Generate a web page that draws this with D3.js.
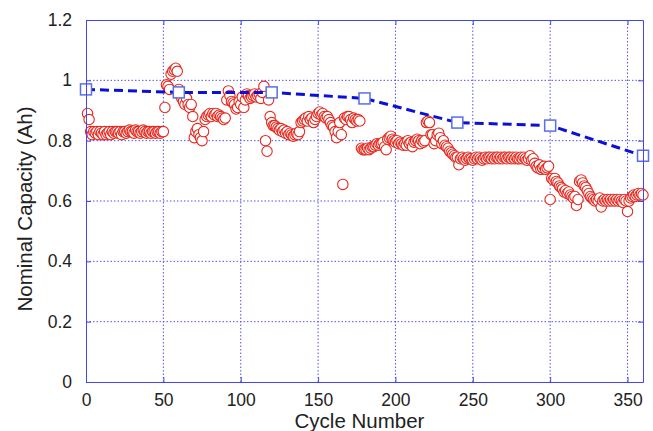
<!DOCTYPE html>
<html>
<head>
<meta charset="utf-8">
<script src="https://cdn.jsdelivr.net/npm/d3@7"></script>
<style>
  body { margin: 0; background: #fff; }
  text { font-family: Arial, "Liberation Sans", sans-serif; fill: #222; }
</style>
</head>
<body>
<div id="chart-area"></div>
<script>
// nominal capacity per cycle (cycle 1..360)
const capacity = [
  0.89,0.87,0.83,0.82,0.83,0.825,0.83,0.82,0.83,0.825,
  0.82,0.83,0.82,0.825,0.83,0.82,0.83,0.825,0.83,0.83,
  0.825,0.83,0.82,0.83,0.83,0.825,0.83,0.835,0.83,0.83,
  0.825,0.835,0.83,0.83,0.825,0.83,0.835,0.83,0.825,0.83,
  0.83,0.825,0.83,0.83,0.825,0.83,0.83,0.825,0.83,0.83,
  0.91,0.985,0.98,0.97,1.02,1.03,1.035,1.04,1.03,0.97,
  0.95,0.94,0.93,0.92,0.94,0.92,0.91,0.92,0.88,0.81,
  0.83,0.84,0.82,0.81,0.80,0.83,0.87,0.88,0.885,0.89,
  0.88,0.89,0.885,0.89,0.88,0.885,0.88,0.875,0.87,0.875,
  0.935,0.965,0.95,0.93,0.925,0.92,0.905,0.91,0.93,0.92,
  0.945,0.91,0.935,0.955,0.95,0.94,0.945,0.95,0.955,0.945,
  0.95,0.955,0.94,0.96,0.98,0.80,0.765,0.935,0.88,0.86,
  0.85,0.85,0.845,0.84,0.835,0.84,0.83,0.835,0.825,0.83,
  0.82,0.825,0.82,0.815,0.82,0.825,0.82,0.83,0.86,0.865,
  0.87,0.875,0.865,0.88,0.87,0.875,0.86,0.87,0.88,0.89,
  0.895,0.885,0.89,0.88,0.875,0.88,0.87,0.86,0.85,0.845,
  0.83,0.81,0.83,0.86,0.82,0.655,0.875,0.87,0.88,0.88,
  0.87,0.86,0.875,0.87,0.865,0.87,0.865,0.775,0.77,0.77,
  0.77,0.775,0.77,0.775,0.78,0.78,0.785,0.79,0.785,0.79,
  0.79,0.795,0.78,0.77,0.805,0.81,0.815,0.805,0.80,0.795,
  0.80,0.79,0.795,0.79,0.785,0.79,0.785,0.80,0.79,0.795,
  0.78,0.795,0.80,0.805,0.80,0.79,0.80,0.795,0.80,0.86,
  0.865,0.86,0.82,0.82,0.79,0.80,0.82,0.825,0.81,0.79,
  0.80,0.785,0.78,0.775,0.765,0.76,0.755,0.75,0.745,0.745,
  0.72,0.74,0.745,0.74,0.735,0.74,0.745,0.74,0.74,0.735,
  0.74,0.745,0.74,0.745,0.74,0.735,0.74,0.745,0.74,0.745,
  0.745,0.74,0.745,0.74,0.745,0.745,0.74,0.745,0.74,0.745,
  0.745,0.74,0.745,0.745,0.74,0.745,0.74,0.745,0.74,0.74,
  0.745,0.74,0.745,0.74,0.735,0.74,0.75,0.735,0.74,0.725,
  0.715,0.71,0.72,0.705,0.71,0.715,0.705,0.71,0.715,0.605,
  0.675,0.67,0.675,0.665,0.66,0.65,0.645,0.64,0.63,0.635,
  0.625,0.63,0.62,0.615,0.61,0.615,0.585,0.605,0.665,0.67,
  0.66,0.65,0.645,0.635,0.625,0.615,0.61,0.605,0.60,0.605,
  0.60,0.61,0.58,0.60,0.605,0.60,0.605,0.60,0.605,0.60,
  0.605,0.60,0.605,0.60,0.605,0.60,0.595,0.605,0.60,0.565,
  0.60,0.61,0.615,0.62,0.615,0.62,0.625,0.62,0.625,0.62
]

// nominal (rated) capacity checkpoints
const checkCycles = [0, 60, 120, 180, 240, 300, 360]
const checkCapacity = [0.97, 0.96, 0.96, 0.94, 0.86, 0.85, 0.75]

const xTicks = [0, 50, 100, 150, 200, 250, 300, 350]
const yTicks = [0, 0.2, 0.4, 0.6, 0.8, 1, 1.2]

const MARGIN = { LEFT: 86, RIGHT: 10, TOP: 20, BOTTOM: 49 }
const WIDTH = 653 - MARGIN.LEFT - MARGIN.RIGHT
const HEIGHT = 431 - MARGIN.TOP - MARGIN.BOTTOM

const AXIS_BLUE = "#4646f0"
const GRID_BLUE = "#5252f5"

const svg = d3.select("#chart-area").append("svg")
  .attr("width", 653)
  .attr("height", 431)

const g = svg.append("g")
  .attr("transform", `translate(${MARGIN.LEFT}, ${MARGIN.TOP})`)

const x = d3.scaleLinear().domain([0, 360]).range([0, WIDTH])
const y = d3.scaleLinear().domain([0, 1.2]).range([HEIGHT, 0])

// dotted grid
g.append("g").selectAll("line")
  .data(xTicks.filter(d => d > 0))
  .enter().append("line")
  .attr("x1", d => x(d)).attr("x2", d => x(d))
  .attr("y1", 0).attr("y2", HEIGHT)
  .attr("stroke", GRID_BLUE)
  .attr("stroke-width", 1)
  .attr("stroke-dasharray", "1.5,2")

g.append("g").selectAll("line")
  .data(yTicks.filter(d => d > 0 && d < 1.2))
  .enter().append("line")
  .attr("x1", 0).attr("x2", WIDTH)
  .attr("y1", d => y(d)).attr("y2", d => y(d))
  .attr("stroke", GRID_BLUE)
  .attr("stroke-width", 1)
  .attr("stroke-dasharray", "1.5,2")

// measured capacity (red circles)
g.append("g").selectAll("circle")
  .data(capacity)
  .enter().append("circle")
  .attr("cx", (d, i) => x(i + 1))
  .attr("cy", d => y(d))
  .attr("r", 5.2)
  .attr("fill", "#fff")
  .attr("stroke", "#e8281e")
  .attr("stroke-width", 1.1)

// nominal capacity line
const checkData = checkCycles.map((c, i) => ({ cycle: c, cap: checkCapacity[i] }))

const line = d3.line()
  .x(d => x(d.cycle))
  .y(d => y(d.cap))

g.append("path")
  .datum(checkData)
  .attr("d", line)
  .attr("fill", "none")
  .attr("stroke", "#0b10d6")
  .attr("stroke-width", 3)
  .attr("stroke-dasharray", "9,5")

g.append("g").selectAll("rect")
  .data(checkData)
  .enter().append("rect")
  .attr("x", d => x(d.cycle) - 5.5)
  .attr("y", d => y(d.cap) - 5.5)
  .attr("width", 11)
  .attr("height", 11)
  .attr("fill", "#fff")
  .attr("stroke", "#5a6ee8")
  .attr("stroke-width", 1.5)

// axes with inner ticks
const xAxisGroup = g.append("g")
  .attr("transform", `translate(0, ${HEIGHT})`)
  .call(d3.axisBottom(x).tickValues(xTicks).tickSizeInner(-5).tickSizeOuter(0).tickPadding(12))

const yAxisGroup = g.append("g")
  .call(d3.axisLeft(y).tickValues(yTicks).tickFormat(d3.format("~g")).tickSizeInner(-5).tickSizeOuter(0).tickPadding(14))

const topAxis = g.append("g")
  .call(d3.axisTop(x).tickValues(xTicks).tickSizeInner(-5).tickSizeOuter(0).tickFormat(""))

const rightAxis = g.append("g")
  .attr("transform", `translate(${WIDTH}, 0)`)
  .call(d3.axisRight(y).tickValues(yTicks).tickSizeInner(-5).tickSizeOuter(0).tickFormat(""))

;[xAxisGroup, yAxisGroup, topAxis, rightAxis].forEach(a => {
  a.selectAll("path, line").attr("stroke", AXIS_BLUE)
  a.selectAll("text").attr("fill", "#222").attr("font-size", "17.5px")
    .attr("font-family", "Arial, 'Liberation Sans', sans-serif")
})

// X Label
g.append("text")
  .attr("x", WIDTH / 2 - 5)
  .attr("y", HEIGHT + 46)
  .attr("font-size", "20.5px")
  .attr("text-anchor", "middle")
  .text("Cycle Number")

// Y Label
g.append("text")
  .attr("x", -189)
  .attr("y", -54)
  .attr("font-size", "20.5px")
  .attr("text-anchor", "middle")
  .attr("transform", "rotate(-90)")
  .text("Nominal Capacity (Ah)")
</script>
</body>
</html>
